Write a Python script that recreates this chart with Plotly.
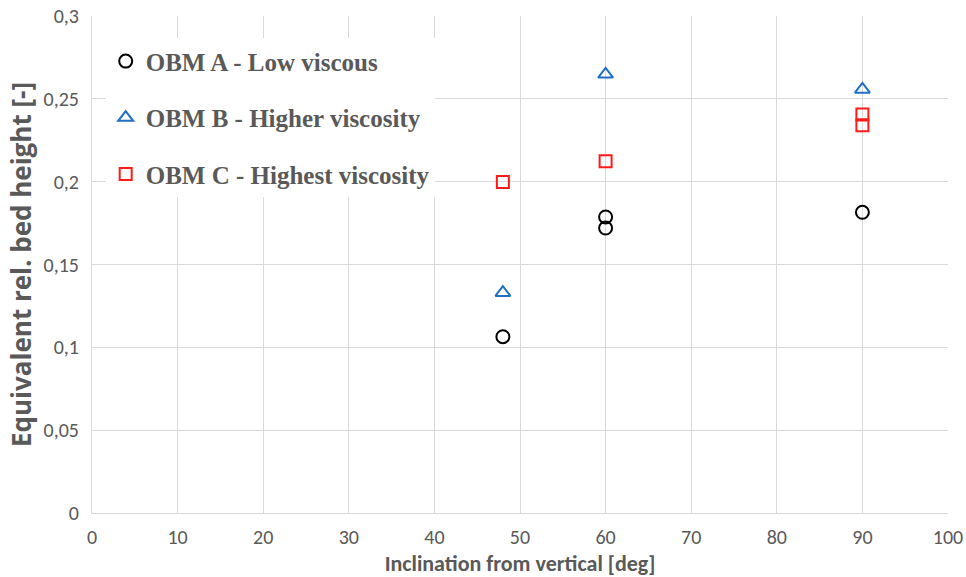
import plotly.graph_objects as go

# Data
a_x = [48, 60, 60, 90]
a_y = [0.1064, 0.1787, 0.172, 0.1815]
b_x = [48, 60, 90]
b_y = [0.133, 0.2648, 0.2557]
c_x = [48, 60, 90, 90]
c_y = [0.1998, 0.2123, 0.2405, 0.2340]

names = ["OBM A - Low viscous", "OBM B - Higher viscosity", "OBM C - Highest viscosity"]

gray = "#595959"
grid = "#d9d9d9"
calibri = "Carlito, 'Liberation Sans Narrow', 'Open Sans', sans-serif"
tick_font = dict(family=calibri, size=20, color=gray)

fig = go.Figure()
fig.add_trace(go.Scatter(x=a_x, y=a_y, mode="markers", name=names[0], legendgroup="a",
                         marker=dict(symbol="circle-open", size=13, color="#000000", line=dict(width=2))))
fig.add_trace(go.Scatter(x=b_x, y=b_y, mode="markers", name=names[1], legendgroup="b",
                         marker=dict(symbol="triangle-up-open", size=13, color="#1f6fc5", line=dict(width=2))))
fig.add_trace(go.Scatter(x=c_x, y=c_y, mode="markers", name=names[2], legendgroup="c",
                         marker=dict(symbol="square-open", size=12, color="#ff1a1a", line=dict(width=2))))

fig.update_layout(
    width=966, height=577,
    margin=dict(l=92, r=18, t=16, b=64),
    plot_bgcolor="white", paper_bgcolor="white",
    separators=", ",
    showlegend=True,
    legend=dict(x=0.016, y=0.955, xanchor="left", yanchor="top",
                bgcolor="white", borderwidth=0,
                traceorder="grouped", tracegroupgap=21,
                font=dict(family="'Liberation Serif', 'Times New Roman', serif", size=25, color=gray, weight="bold"),
                itemsizing="trace"),
    xaxis=dict(range=[0, 100], dtick=10, tick0=0, showgrid=True, gridcolor=grid, gridwidth=1,
               zeroline=False, showline=True, linecolor=grid, linewidth=1, automargin=False,
               ticks="", tickfont=tick_font, ticklabelstandoff=6,
               title=dict(text="<b>Inclination from vertical [deg]</b>", standoff=8,
                          font=dict(family=calibri, size=22, color=gray))),
    yaxis=dict(range=[0, 0.3], dtick=0.05, tick0=0, showgrid=True, gridcolor=grid, gridwidth=1,
               zeroline=False, showline=True, linecolor=grid, linewidth=1, automargin=False,
               ticks="", tickfont=tick_font, tickformat="~r", ticklabelstandoff=8,
               title=dict(text="<b>Equivalent rel. bed height [-]</b>", standoff=4,
                          font=dict(family="'Open Sans', sans-serif", size=26, color=gray))),
)

fig.write_html("out.html")
